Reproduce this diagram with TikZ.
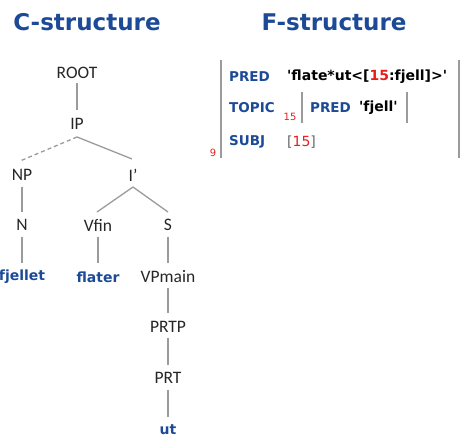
\documentclass[tikz,border=0pt]{standalone}
\usepackage{fontspec}
\setmainfont{Carlito}
\newfontfamily\vfont{DejaVu Sans}
\definecolor{lfgblue}{RGB}{28,74,150}
\definecolor{lfgred}{RGB}{230,30,30}
\definecolor{lfggray}{RGB}{155,155,155}
\tikzset{
  cat/.style={inner sep=0pt, font=\fontsize{17.5}{18}\selectfont, text=black!85},
  leaf/.style={inner sep=0pt, font=\vfont\bfseries\fontsize{14}{15}\selectfont, text=lfgblue},
  title/.style={inner sep=0pt, font=\vfont\bfseries\fontsize{23}{25}\selectfont, text=lfgblue},
  attr/.style={inner sep=0pt, anchor=west, font=\vfont\bfseries\fontsize{13.5}{15}\selectfont, text=lfgblue},
  val/.style={inner sep=0pt, anchor=west, font=\vfont\bfseries\fontsize{14}{15}\selectfont, text=black},
  idx/.style={inner sep=0pt, font=\vfont\fontsize{10}{11}\selectfont, text=lfgred},
  branch/.style={draw=lfggray, line width=1.3pt},
  bar/.style={draw=lfggray, line width=2pt},
}
\begin{document}
\begin{tikzpicture}[x=1pt,y=-1pt]
\useasboundingbox (0,0) rectangle (461,438);
% titles
\node[title] (ct) at (87,22) {C-structure};
\node[title] (ft) at (334,22) {F-structure};
% tree
\node[cat] (root) at (77,73) {ROOT};
\node[cat] (ip) at (77,124) {IP};
\node[cat] (np) at (22,175) {NP};
\node[cat] (ibar) at (133,175) {I'};
\node[cat] (n) at (22,225) {N};
\node[cat] (vfin) at (98,225) {Vfin};
\node[cat] (s) at (168,225) {S};
\node[leaf] (fjellet) at (22,277) {fjellet};
\node[leaf] (flater) at (98,277) {flater};
\node[cat] (vpmain) at (168,277) {VPmain};
\node[cat] (prtp) at (168,327) {PRTP};
\node[cat] (prt) at (168,378) {PRT};
\node[leaf] (ut) at (168,430) {ut};
% branches
\draw[branch] ([yshift=-10pt]root.center) -- ([yshift=14pt]ip.center);
\draw[branch, dashed, dash pattern=on 4pt off 3pt] ([yshift=-13pt]ip.center) -- ([xshift=-2pt,yshift=14pt]np.center);
\draw[branch] ([yshift=-13pt]ip.center) -- ([xshift=-1pt,yshift=16pt]ibar.center);
\draw[branch] ([yshift=-12pt]ibar.center) -- ([xshift=-1pt,yshift=13pt]vfin.center);
\draw[branch] ([yshift=-12pt]ibar.center) -- ([yshift=13pt]s.center);
\draw[branch] ([yshift=-12pt]np.center) -- ([yshift=13pt]n.center);
\draw[branch] ([yshift=-12pt]n.center) -- ([yshift=14pt]fjellet.center);
\draw[branch] ([yshift=-12pt]vfin.center) -- ([yshift=14pt]flater.center);
\draw[branch] ([yshift=-12pt]s.center) -- ([yshift=14pt]vpmain.center);
\draw[branch] ([yshift=-11pt]vpmain.center) -- ([yshift=14pt]prtp.center);
\draw[branch] ([yshift=-11pt]prtp.center) -- ([yshift=13pt]prt.center);
\draw[branch] ([yshift=-12pt]prt.center) -- ([yshift=13pt]ut.center);
% f-structure
\coordinate (fl1) at (221,60);
\coordinate (fl2) at (221,158);
\coordinate (fr1) at (459,60);
\coordinate (fr2) at (459,158);
\draw[bar] (fl1) -- (fl2);
\draw[bar] (fr1) -- (fr2);
\node[attr] (pred) at (229,77) {PRED};
\node[val] (predv) at (287,77) {'flate*ut<[\textcolor{lfgred}{15}:fjell]>'};
\node[attr] (topic) at (229,108) {TOPIC};
\node[idx] (i15) at (290,117) {15};
\coordinate (il1) at (302,92);
\coordinate (il2) at (302,123);
\coordinate (ir1) at (407,92);
\coordinate (ir2) at (407,123);
\draw[bar] (il1) -- (il2);
\draw[bar] (ir1) -- (ir2);
\node[attr] (pred2) at (310,108) {PRED};
\node[val] (fjell) at (359,108) {'fjell'};
\node[attr] (subj) at (229,142) {SUBJ};
\node[val, font=\vfont\fontsize{14}{15}\selectfont, text=black!60] (ref) at (287,142) {[\textcolor{lfgred}{15}]};
\node[idx] (nine) at (213,153) {9};
\end{tikzpicture}
\end{document}
